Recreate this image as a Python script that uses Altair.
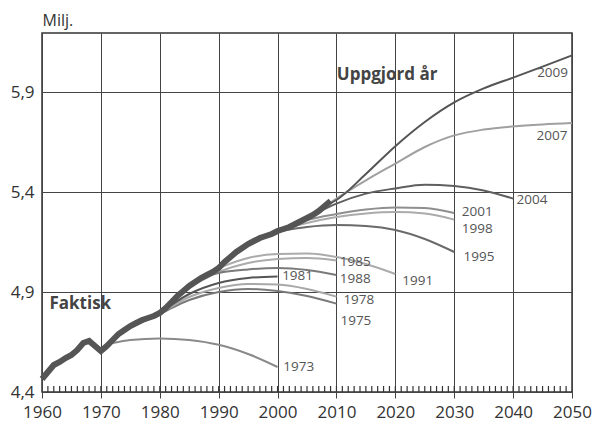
import altair as alt
import pandas as pd

# ---------------- data ----------------
actual_years = list(range(1960, 2010))
actual_vals = [4.465, 4.50, 4.535, 4.55, 4.57, 4.585, 4.61, 4.645, 4.655, 4.63,
               4.605, 4.63, 4.66, 4.69, 4.71, 4.73, 4.745, 4.76, 4.77, 4.78,
               4.795, 4.82, 4.85, 4.88, 4.905, 4.93, 4.95, 4.97, 4.985, 5.00,
               5.02, 5.05, 5.075, 5.10, 5.12, 5.14, 5.155, 5.17, 5.18, 5.19,
               5.205, 5.215, 5.225, 5.24, 5.255, 5.27, 5.285, 5.305, 5.33, 5.355]

p1973_years = [1972, 1975, 1980, 1985, 1990, 1995, 2000]
p1973_vals = [4.645, 4.66, 4.668, 4.66, 4.636, 4.59, 4.525]
p1975_years = [1974, 1980, 1985, 1990, 1995, 2000, 2005, 2010]
p1975_vals = [4.71, 4.79, 4.86, 4.90, 4.915, 4.905, 4.88, 4.842]
p1978_years = [1977, 1980, 1985, 1990, 1995, 2000, 2005, 2010]
p1978_vals = [4.76, 4.795, 4.875, 4.92, 4.94, 4.937, 4.915, 4.877]
p1981_years = [1980, 1985, 1990, 1995, 2000]
p1981_vals = [4.795, 4.89, 4.945, 4.97, 4.978]
p1985_years = [1984, 1990, 1995, 2000, 2005, 2010]
p1985_vals = [4.905, 5.0, 5.045, 5.065, 5.07, 5.058]
p1988_years = [1987, 1990, 1995, 2000, 2005, 2010]
p1988_vals = [4.97, 4.995, 5.013, 5.02, 5.01, 4.985]
p1991_years = [1990, 1995, 2000, 2005, 2010, 2015, 2020]
p1991_vals = [5.02, 5.07, 5.09, 5.092, 5.075, 5.04, 4.99]
p1995_years = [1994, 2000, 2005, 2010, 2015, 2020, 2025, 2030]
p1995_vals = [5.12, 5.2, 5.225, 5.235, 5.23, 5.21, 5.165, 5.10]
p1998_years = [1997, 2000, 2005, 2010, 2015, 2020, 2025, 2030]
p1998_vals = [5.17, 5.205, 5.245, 5.275, 5.293, 5.30, 5.293, 5.262]
p2001_years = [2000, 2005, 2010, 2015, 2020, 2025, 2030]
p2001_vals = [5.205, 5.26, 5.29, 5.312, 5.322, 5.32, 5.295]
p2004_years = [2003, 2005, 2010, 2015, 2020, 2025, 2030, 2035, 2040]
p2004_vals = [5.24, 5.27, 5.342, 5.392, 5.418, 5.436, 5.43, 5.408, 5.367]
p2007_years = [2006, 2010, 2015, 2020, 2025, 2030, 2035, 2040, 2045, 2050]
p2007_vals = [5.285, 5.367, 5.458, 5.542, 5.625, 5.683, 5.712, 5.728, 5.738, 5.745]
p2009_years = [2008, 2010, 2015, 2020, 2025, 2030, 2035, 2040, 2045, 2050]
p2009_vals = [5.33, 5.36, 5.49, 5.629, 5.75, 5.848, 5.918, 5.972, 6.027, 6.083]

series_names = ["1973", "1975", "1978", "1981", "1985", "1988", "1991",
                "1995", "1998", "2001", "2004", "2007", "2009"]
series_data = [(p1973_years, p1973_vals), (p1975_years, p1975_vals),
               (p1978_years, p1978_vals), (p1981_years, p1981_vals),
               (p1985_years, p1985_vals), (p1988_years, p1988_vals),
               (p1991_years, p1991_vals), (p1995_years, p1995_vals),
               (p1998_years, p1998_vals), (p2001_years, p2001_vals),
               (p2004_years, p2004_vals), (p2007_years, p2007_vals),
               (p2009_years, p2009_vals)]

label_text = ["2009", "2007", "2004", "2001", "1998", "1995", "1991",
              "1985", "1988", "1981", "1978", "1975", "1973"]
label_year = [2046.7, 2046.6, 2043.2, 2033.9, 2033.9, 2034.2, 2023.8,
              2013.2, 2013.2, 2003.4, 2013.8, 2013.3, 2003.6]
label_value = [5.993, 5.678, 5.358, 5.300, 5.216, 5.073, 4.953,
               5.050, 4.966, 4.978, 4.858, 4.753, 4.523]

note_text = ["Uppgjord år", "Faktisk"]
note_year = [2018.6, 1966.5]
note_value = [5.983, 4.838]

minor_years = list(range(1961, 2050))

# ---------------- styles ----------------
series_colors = ["#8a8a8a", "#7a7a7a", "#a8a8a8", "#555555", "#ababab", "#7a7a7a",
                 "#ababab", "#6a6a6a", "#ababab", "#8f8f8f", "#5f5f5f", "#a0a0a0",
                 "#555555"]
FONT = "Open Sans"

# ---------------- tables ----------------
rows = []
for name, (yrs, vals) in zip(series_names, series_data):
    for y, v in zip(yrs, vals):
        rows.append({"series": name, "year": y, "value": v})
proj_df = pd.DataFrame(rows)
actual_df = pd.DataFrame({"year": actual_years, "value": actual_vals})
label_df = pd.DataFrame({"year": label_year, "value": label_value, "label": label_text})
note_df = pd.DataFrame({"year": note_year, "value": note_value, "label": note_text})
minor_df = pd.DataFrame({"year": minor_years,
                         "value": [4.4] * len(minor_years),
                         "value2": [4.43] * len(minor_years)})

x_scale = alt.Scale(domain=[1960, 2050], nice=False, zero=False)
y_scale = alt.Scale(domain=[4.4, 6.195], nice=False, zero=False)

x_axis = alt.Axis(values=list(range(1960, 2051, 10)), format="d", title=None,
                  grid=True, tickSize=6, labelPadding=6, domain=False,
                  labelFlush=False, labelOverlap=False, labelBound=False)
y_axis = alt.Axis(values=[4.4, 4.9, 5.4, 5.9],
                  labelExpr="replace(format(datum.value, '.1f'), '.', ',')",
                  title="Milj.", titleAngle=0, titleAlign="left", titleX=0,
                  titleY=-8, titleBaseline="alphabetic", titleFontSize=16,
                  titleFontWeight="normal", titleColor="#333", titleFont=FONT,
                  grid=True, ticks=False, labelPadding=8, domain=False,
                  labelFlush=False, labelOverlap=False)

X = alt.X("year:Q", scale=x_scale, axis=x_axis)
Y = alt.Y("value:Q", scale=y_scale, axis=y_axis)

minor = alt.Chart(minor_df).mark_rule(color="#333333", strokeWidth=1.2).encode(
    x=X, y=Y, y2=alt.Y2("value2:Q"))

proj = alt.Chart(proj_df).mark_line(interpolate="monotone", strokeWidth=2).encode(
    x=X, y=Y,
    color=alt.Color("series:N", scale=alt.Scale(domain=series_names, range=series_colors),
                    legend=None))

actual = alt.Chart(actual_df).mark_line(strokeWidth=6, color="#555555").encode(x=X, y=Y)

labels = alt.Chart(label_df).mark_text(fontSize=13.5, color="#555", font=FONT).encode(
    x=X, y=Y, text="label:N")

notes = alt.Chart(note_df).mark_text(fontSize=17, fontWeight="bold", color="#444",
                                     font=FONT).encode(x=X, y=Y, text="label:N")

chart = alt.layer(minor, proj, actual, labels, notes).properties(
    width=530, height=359, autosize="none",
    padding={"left": 34, "top": 25, "right": 20, "bottom": 30},
).configure_view(stroke="#333", strokeWidth=1.5).configure_axis(
    gridColor="#444", gridWidth=1, tickColor="#444", labelFont=FONT,
    labelFontSize=17, labelColor="#333")

chart.save("out.html", embed_options={"renderer": "svg", "actions": False})
